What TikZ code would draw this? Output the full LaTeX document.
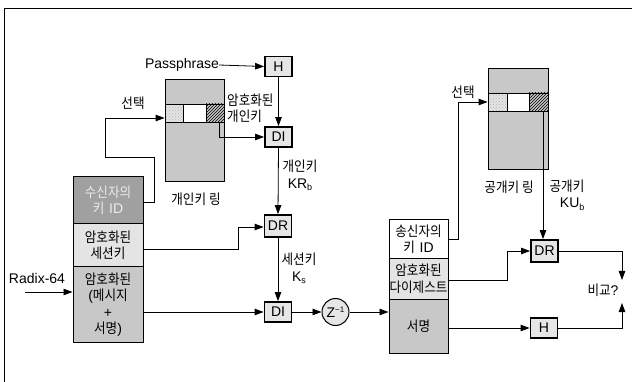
\documentclass[tikz,border=0pt]{standalone}
\usepackage{fontspec}
\setmainfont{Liberation Sans}
\newfontfamily\kr{Noto Sans CJK KR}[Scale=1.0, FakeStretch=0.9]
\usetikzlibrary{arrows.meta,patterns}
\newcommand{\hg}[1]{{\kr #1}}
\definecolor{darkbox}{HTML}{A0A0A0}
\definecolor{midbox}{HTML}{C8C8C8}
\definecolor{lightbox}{HTML}{E4E4E4}
\definecolor{procfill}{HTML}{E6E6E6}
\begin{document}
\begin{tikzpicture}[x=1pt,y=-1pt,
  every node/.style={font=\fontsize{14}{16.5}\selectfont, inner sep=0pt},
  proc/.style={draw, line width=1.8pt, fill=procfill, minimum width=27pt, minimum height=20pt},
  fieldbox/.style={draw, line width=1pt, align=center, text width=68pt, minimum width=70pt},
  sfieldbox/.style={draw, line width=1pt, align=center, text width=58pt, minimum width=59pt},
  ring/.style={draw, line width=1pt, fill=midbox},
  cell/.style={draw, line width=0.8pt, minimum height=18pt},
  dotcell/.style={cell, preaction={fill=lightbox}, pattern=crosshatch dots, pattern color=gray!60},
  hatchcell/.style={cell, preaction={fill=gray!45}, pattern=north east lines, pattern color=black},
  conn/.style={line width=0.8pt},
  arr/.style={conn, -{Triangle[length=9pt,width=6.5pt]}},
  lbl/.style={align=center}
]
\useasboundingbox (0,0) rectangle (632,382);
% frame
\draw[line width=1.3pt] (4.5,382) -- (4.5,8.5) -- (632,8.5);

% private key ring
\node[ring, minimum width=59pt, minimum height=102pt] (ring1) at (194.5,131) {};
\node[dotcell, minimum width=18pt] (c1a) at (174,113) {};
\node[cell, fill=white, minimum width=23pt] (c1b) at (194.5,113) {};
\node[hatchcell, minimum width=18pt] (c1c) at (215,113) {};
\node (ring1lbl) at (196,199) {\hg{개인키 링}};

% public key ring
\node[ring, minimum width=60pt, minimum height=101pt] (ring2) at (518,119.5) {};
\node[dotcell, minimum width=19pt] (c2a) at (497.5,102) {};
\node[cell, fill=white, minimum width=22pt] (c2b) at (518,102) {};
\node[hatchcell, minimum width=19pt] (c2c) at (538.5,102) {};
\node (ring2lbl) at (509,187) {\hg{공개키 링}};

% processing boxes
\node (pass) at (182,65) {Passphrase};
\node[proc] (H1) at (278.5,66.5) {H};
\node[proc] (DI1) at (278.5,137) {DI};
\node[proc, minimum height=22pt] (DR1) at (278,226) {DR};
\node[proc] (DI2) at (278,312) {DI};
\node[draw, circle, line width=1pt, fill=procfill, minimum size=27pt] (Z) at (335.5,312) {Z\raisebox{0.7ex}{\fontsize{8}{8}\selectfont −1}};
\node[proc, minimum height=22pt] (DR2) at (544.5,251) {DR};
\node[proc] (H2) at (544,328) {H};
\node (cmp) at (603,290) {\hg{비교}?};

% receiver message fields
\node[fieldbox, fill=darkbox, text=white!92!black, minimum height=47pt] (r1) at (108,200.5) {\hg{수신자의}\\\hg{키} ID};
\node[fieldbox, fill=lightbox, minimum height=43pt] (r2) at (108,245.5) {\hg{암호화된}\\\hg{세션키}};
\node[fieldbox, fill=midbox, minimum height=75pt] (r3) at (108,304.5) {\hg{암호화된}\\(\hg{메시지}\\+\\\hg{서명})};

% sender fields
\node[sfieldbox, fill=white, minimum height=39pt] (s1) at (418.5,239.5) {\hg{송신자의}\\\hg{키} ID};
\node[sfieldbox, fill=lightbox, minimum height=40pt] (s2) at (418.5,279) {\hg{암호화된}\\\hg{다이제스트}};
\node[sfieldbox, fill=midbox, minimum height=54pt] (s3) at (418.5,326) {\hg{서명}};

% labels
\node (sel1) at (133,103) {\hg{선택}};
\node[anchor=west, align=left] (enc1) at (227,108.5) {\hg{암호화된}\\\hg{개인키}};
\node[lbl] (krb) at (300,175.5) {\hg{개인키}\\KR\raisebox{-0.4ex}{\fontsize{9}{9}\selectfont b}};
\node[lbl] (ks) at (299,268.5) {\hg{세션키}\\K\raisebox{-0.4ex}{\fontsize{9}{9}\selectfont s}};
\node (radix) at (37,278) {Radix-64};
\node (sel2) at (463,92) {\hg{선택}};
\node[align=right] (kub) at (567,195) {\hg{공개키}\\KU\raisebox{-0.4ex}{\fontsize{9}{9}\selectfont b}};

% coordinates
\coordinate (radixin) at (25,292);
\coordinate (cmpin1) at (622,280);
\coordinate (cmpin2) at (622,303);

% connectors
\draw[arr] (pass.east) -- (H1.west);
\draw[arr] (H1.south) -- (DI1.north);
\draw[arr] ([xshift=4pt]c1c.south) |- (DI1.west);
\draw[arr] (r1.east |- 0,202) -| (154,157) -| (105,118) -- (c1a.west |- 0,118);
\draw[arr] (DI1.south) -- (DR1.north);
\draw[arr] (r2.east |- 0,249) -| (238,227) -- (DR1.west |- 0,227);
\draw[arr] (DR1.south) -- (DI2.north);
\draw[arr] (radixin) -- (r3.west |- radixin);
\draw[arr] (r3.east |- DI2) -- (DI2.west);
\draw[arr] (DI2.east) -- (Z.west);
\draw[arr] (Z.east) -- (s3.west |- Z);
\draw[arr] (s1.east) -- (458,239.5) |- (c2a.west);
\draw[arr] ([xshift=4.5pt]c2c.south) -- ([xshift=4.5pt]c2c.south |- DR2.north);
\draw[arr] (s2.east |- 0,280) -| (507,251) -- (DR2.west);
\draw[arr] (DR2.east) -| (cmpin1);
\draw[arr] (s3.east |- H2) -- (H2.west);
\draw[arr] (H2.east) -| (cmpin2);
\end{tikzpicture}
\end{document}
